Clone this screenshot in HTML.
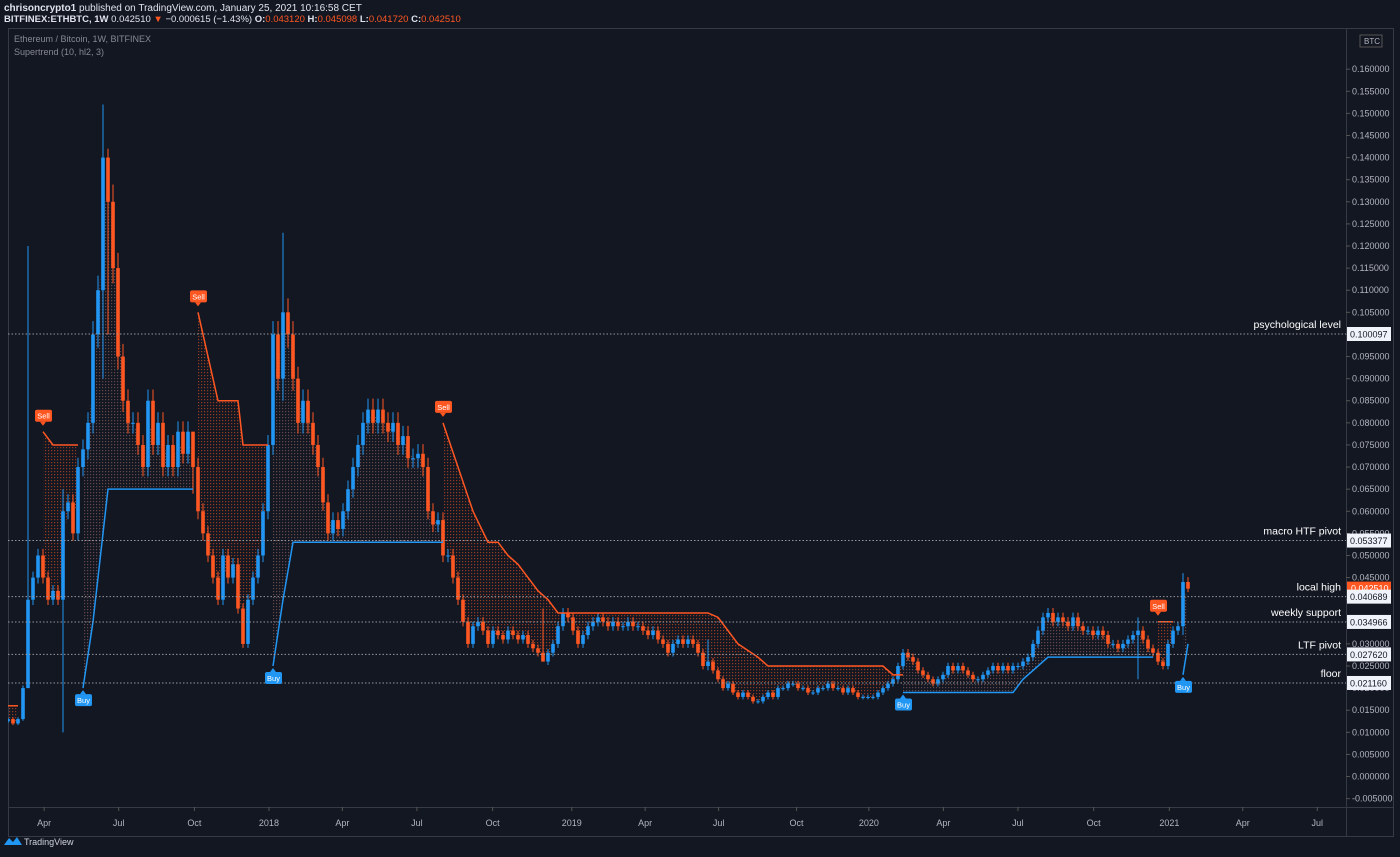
<!DOCTYPE html>
<html><head><meta charset="utf-8"><style>
html,body{margin:0;padding:0;background:#131722;}
body{width:1400px;height:852px;overflow:hidden;font-family:"Liberation Sans",sans-serif;}
svg text{font-family:"Liberation Sans",sans-serif;}
</style></head><body>
<svg id="c" width="1400" height="852" xmlns="http://www.w3.org/2000/svg">
<defs>
<pattern id="dotR" width="3" height="3" patternUnits="userSpaceOnUse"><rect width="1.2" height="1.2" fill="#ff5722" opacity="0.55"/></pattern>
<pattern id="dotB" width="3" height="3" patternUnits="userSpaceOnUse"><rect width="1.2" height="1.2" fill="#c9857a" opacity="0.45"/></pattern>
<clipPath id="pane"><rect x="8" y="28" width="1338" height="780"/></clipPath>
</defs>
<text x="4" y="11" font-size="10" font-weight="bold" fill="#e0e3eb">chrisoncrypto1 <tspan font-weight="normal">published on TradingView.com, January 25, 2021 10:16:58 CET</tspan></text>
<text x="4" y="22" font-size="9.5" font-weight="bold" fill="#e0e3eb">BITFINEX:ETHBTC, 1W <tspan font-weight="normal">0.042510 </tspan><tspan fill="#ff5722">▼</tspan><tspan font-weight="normal"> −0.000615 (−1.43%) </tspan>O:<tspan fill="#ff5722" font-weight="normal">0.043120</tspan> H:<tspan fill="#ff5722" font-weight="normal">0.045098</tspan> L:<tspan fill="#ff5722" font-weight="normal">0.041720</tspan> C:<tspan fill="#ff5722" font-weight="normal">0.042510</tspan></text>
<rect x="8.5" y="28.5" width="1385" height="808" fill="none" stroke="#363a45"/>
<line x1="1346.5" y1="28" x2="1346.5" y2="837" stroke="#363a45"/>
<line x1="8" y1="807.5" x2="1393" y2="807.5" stroke="#363a45"/>
<text x="14" y="42" font-size="9" fill="#868993">Ethereum / Bitcoin, 1W, BITFINEX</text>
<text x="14" y="55" font-size="9" fill="#868993">Supertrend (10, hl2, 3)</text>
<g id="yax"></g><g id="xax"></g>
<g id="plot" clip-path="url(#pane)"></g>
<g id="ann"></g>
<g><path d="M4 845 l5-7 4 4 4-5 5 8 z" fill="#2196f3"/><text x="24" y="845" font-size="9" fill="#d1d4dc">TradingView</text></g>
</svg>
<script>
const closes=[.013,.012,.013,.02,.04,.045,.05,.045,.04,.042,.04,.06,.062,.055,.07,.074,.08,.1,.11,.14,.13,.115,.095,.085,.08,.08,.075,.07,.085,.075,.08,.07,.075,.07,.078,.073,.078,.07,.06,.055,.05,.045,.04,.05,.045,.048,.038,.03,.04,.045,.05,.06,.075,.1,.09,.105,.1,.09,.08,.085,.08,.075,.07,.062,.055,.058,.056,.06,.065,.07,.075,.08,.083,.08,.083,.08,.078,.08,.075,.077,.072,.072,.073,.07,.06,.057,.058,.05,.05,.045,.04,.035,.03,.034,.035,.033,.03,.033,.032,.031,.033,.032,.031,.032,.03,.029,.028,.026,.028,.03,.034,.037,.036,.033,.03,.032,.034,.035,.036,.035,.034,.035,.034,.034,.035,.034,.034,.033,.032,.033,.031,.03,.028,.03,.031,.03,.031,.03,.028,.025,.026,.024,.022,.02,.021,.019,.018,.019,.018,.017,.017,.018,.019,.018,.02,.02,.021,.021,.02,.02,.019,.019,.02,.02,.021,.02,.02,.019,.02,.019,.018,.018,.018,.018,.019,.02,.021,.022,.025,.028,.027,.026,.024,.023,.022,.021,.022,.023,.025,.024,.025,.024,.023,.022,.022,.023,.024,.025,.024,.025,.024,.025,.025,.026,.027,.03,.033,.036,.037,.035,.036,.035,.034,.036,.034,.033,.033,.032,.033,.032,.03,.03,.029,.03,.031,.032,.033,.031,.029,.028,.026,.025,.03,.033,.034,.044,.0425];
const firstOpen=.0125;
const wickIdx=[4,11,19,20,55,37,107,140,226,235,236];
const wickHigh=[.12,.065,.152,.142,.123,.078,.038,.031,.036,.046,.0451];
const wickLow=[.03,.01,.09,.1,.085,.064,.026,.024,.022,.032,.0417];
const stDir=['d','d','u','d','u','d','u','d','u'];
const stIdx=[[0,2],[7,9,14],[15,17,19,20,37],[38,40,42,46,47,52],[53,55,57,87],[87,90,93,96,98,100,102,104,106,108,110,140,142,144,146,150,152,175,177,179],[179,201,203,206,208,229],[230,233],[235,236]];
const stVal=[[.016,.016],[.078,.075,.075],[.02,.035,.055,.065,.065],[.105,.095,.085,.085,.075,.075],[.025,.04,.053,.053],[.08,.07,.06,.053,.053,.05,.048,.045,.042,.04,.037,.037,.036,.033,.03,.027,.025,.025,.023,.023],[.019,.019,.022,.025,.027,.027],[.035,.035],[.023,.03]];
const levelVals=[.100097,.053377,.040689,.034966,.02762,.02116];
const levelNames=['psychological level','macro HTF pivot','local high','weekly support','LTF pivot','floor'];
const levelText=['0.100097','0.053377','0.040689','0.034966','0.027620','0.021160'];
const yTicks=[];for(let k=32;k>=-1;k--)yTicks.push(k*0.005);
const xTickLabels=['Apr','Jul','Oct','2018','Apr','Jul','Oct','2019','Apr','Jul','Oct','2020','Apr','Jul','Oct','2021','Apr','Jul'];
const xTickWeek=[-2.6,10.4,23.6,36.6,49.4,62.4,75.6,89.4,102.2,115,128.6,141.2,154.2,167.2,180.4,193.6,206.4,219.4];

const NS='http://www.w3.org/2000/svg';
const y=p=>334+(0.100097-p)*4421;
const x=i=>8+i*5;
const xw=w=>8+w*5.75*0.9974;
function mk(t,a,p){const e=document.createElementNS(NS,t);for(const k in a)e.setAttribute(k,a[k]);p.appendChild(e);return e;}
const plot=document.getElementById('plot'),yax=document.getElementById('yax'),xax=document.getElementById('xax'),ann=document.getElementById('ann');
yTicks.forEach(v=>{const t=mk('text',{x:1352,y:y(v)+3,'font-size':9,fill:'#b2b5be'},yax);t.textContent=(v<0?'-':'')+Math.abs(v).toFixed(6);


mk('line',{x1:1346,x2:1350,y1:y(v),y2:y(v),stroke:'#555'},yax);});
xTickLabels.forEach((l,k)=>{const xx=xw(xTickWeek[k]+8.9);const t=mk('text',{x:xx,y:826,'font-size':9,fill:'#b2b5be','text-anchor':'middle'},xax);t.textContent=l;


mk('line',{x1:xx,x2:xx,y1:807,y2:811,stroke:'#555'},xax);});
const opens=closes.map((c,i)=>i?closes[i-1]:firstOpen);
const mid=i=>(opens[i]+closes[i])/2;
function stAt(s,i){const I=stIdx[s],V=stVal[s];for(let k=0;k<I.length-1;k++)if(i>=I[k]&&i<=I[k+1])return V[k]+(V[k+1]-V[k])*(i-I[k])/(I[k+1]-I[k]);return V[V.length-1];}
stIdx.forEach((I,s)=>{let pts=[];const a=I[0],b=I[I.length-1];for(let i=a;i<=b;i++)pts.push(x(i)+','+y(stAt(s,i)));for(let i=b;i>=a;i--)pts.push(x(i)+','+y(mid(Math.min(i,closes.length-1))));
const pg=mk('polygon',{points:pts.join(' '),fill:stDir[s]=='d'?'url(#dotR)':'url(#dotB)'},plot);

});
levelVals.forEach((v,k)=>{const l=mk('line',{x1:8,x2:1346,y1:y(v),y2:y(v),stroke:'#9598a1','stroke-dasharray':'1.5 2','stroke-width':1},ann);


const t=mk('text',{x:1341,y:y(v)-6,'font-size':10.5,fill:'#ffffff','text-anchor':'end'},ann);t.textContent=levelNames[k];

});
closes.forEach((c,i)=>{const o=opens[i];const up=c>=o;const col=up?'#2196f3':'#ff5722';
let hi=Math.max(o,c)*1.03,lo=Math.min(o,c)*0.97;const w=wickIdx.indexOf(i);if(w>=0){hi=wickHigh[w];lo=wickLow[w];}
const g=mk('g',{},plot);


mk('line',{x1:x(i),x2:x(i),y1:y(hi),y2:y(lo),stroke:col,'stroke-width':1},g);
const t=Math.min(y(o),y(c)),h=Math.max(1,Math.abs(y(o)-y(c)));mk('rect',{x:x(i)-1.8,y:t,width:3.6,height:h,fill:col},g);});
stIdx.forEach((I,s)=>{const col=stDir[s]=='d'?'#ff5722':'#2196f3';
const pl=mk('polyline',{points:I.map((i,k)=>x(i)+','+y(stVal[s][k])).join(' '),fill:'none',stroke:col,'stroke-width':1.5},plot);


if(s===0)return;const lx=x(I[0]),ly=y(stVal[s][0]);const d=stDir[s]=='d';
const g=mk('g',{},ann);


const by=d?ly-22:ly+6;mk('rect',{x:lx-8,y:by,width:17,height:12,rx:2,fill:col},g);
mk('polygon',{points:d?`${lx-3},${by+12} ${lx+3},${by+12} ${lx},${by+16}`:`${lx-3},${by} ${lx+3},${by} ${lx},${by-4}`,fill:col},g);
const t=mk('text',{x:lx+0.5,y:by+9,'font-size':7.5,fill:'#fff','text-anchor':'middle'},g);t.textContent=d?'Sell':'Buy';});
const pl=mk('g',{},ann);
mk('rect',{x:1347,y:y(.04251)-7,width:44,height:14,fill:'#ff5722'},pl);
mk('rect',{x:1359,y:y(.04251)+5,width:32,height:6,fill:'#ff5722'},pl);
const pt=mk('text',{x:1351,y:y(.04251)+3,'font-size':9,fill:'#fff'},pl);pt.textContent='0.042510';


levelText.forEach((s,k)=>{const g=mk('g',{},ann);mk('rect',{x:1347,y:y(levelVals[k])-7,width:44,height:14,fill:'#f0f3fa'},g);
const t=mk('text',{x:1350,y:y(levelVals[k])+3.5,'font-size':9,fill:'#131722'},g);t.textContent=s;

});
const bt=mk('g',{},ann);mk('rect',{x:1360,y:35,width:22,height:12,fill:'#131722',stroke:'#555'},bt);const btt=mk('text',{x:1364,y:44,'font-size':8,fill:'#b2b5be'},bt);btt.textContent='BTC';


</script>
</body></html>
